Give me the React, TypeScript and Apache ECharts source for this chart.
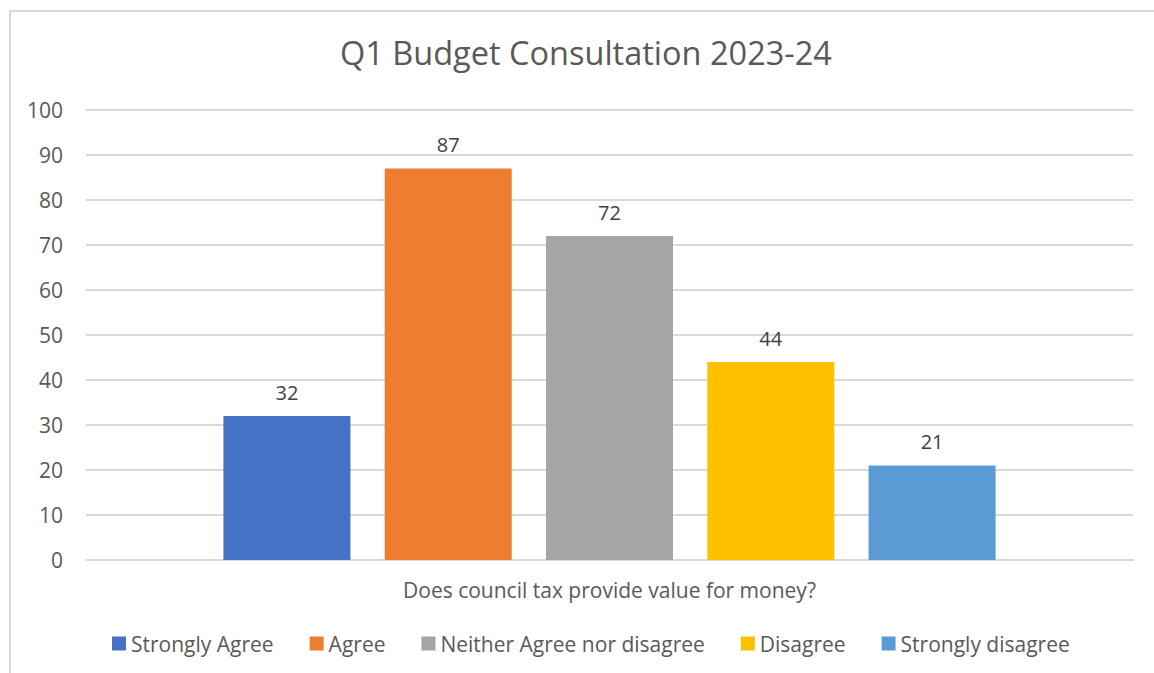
import React, { useEffect, useRef } from "react";
import * as echarts from "echarts";

const title = "Q1 Budget Consultation 2023-24";
const category = ["Does council tax provide value for money?"];
const seriesNames = ["Strongly Agree", "Agree", "Neither Agree nor disagree", "Disagree", "Strongly disagree"];
const seriesValues = [32, 87, 72, 44, 21];
const seriesColors = ["#4472C4", "#ED7D31", "#A5A5A5", "#FFC000", "#5B9BD5"];

const FONT = "'Open Sans', sans-serif";

export default function App() {
  const ref = useRef<HTMLDivElement>(null);
  useEffect(() => {
    if (!ref.current) return;
    const chart = echarts.init(ref.current, null, { renderer: "svg" });
    chart.setOption({
      animation: false,
      backgroundColor: "#ffffff",
      textStyle: { fontFamily: FONT },
      title: {
        text: title,
        left: 335,
        top: 31,
        textStyle: { fontFamily: FONT, fontSize: 32.5, fontWeight: "normal", color: "#595959" },
      },
      graphic: [
        {
          type: "rect",
          shape: { x: 10, y: 11, width: 1200, height: 700 },
          style: { fill: "none", stroke: "#d9d9d9", lineWidth: 2 },
          silent: true,
        },
      ],
      legend: {
        bottom: 14,
        left: 107,
        itemWidth: 14,
        itemHeight: 14,
        itemGap: 36,
        icon: "rect",
        textStyle: { fontFamily: FONT, fontSize: 21, color: "#595959", padding: [0, 0, 0, 0] },
        data: seriesNames,
      },
      grid: { left: 86, right: 21, top: 110, bottom: 113, containLabel: false },
      xAxis: {
        type: "category",
        data: category,
        axisLine: { show: true, lineStyle: { color: "#d9d9d9", width: 2 } },
        axisTick: { show: false },
        axisLabel: { fontFamily: FONT, fontSize: 21, color: "#595959", margin: 19 },
      },
      yAxis: {
        type: "value",
        min: 0,
        max: 100,
        interval: 10,
        axisLine: { show: false },
        axisTick: { show: false },
        splitLine: { lineStyle: { color: "#d9d9d9", width: 2 } },
        axisLabel: { fontFamily: FONT, fontSize: 21, color: "#595959", margin: 23 },
      },
      series: seriesNames.map((name, i) => ({
        name,
        type: "bar",
        data: [seriesValues[i]],
        barWidth: 127,
        barGap: "27%",
        itemStyle: { color: seriesColors[i] },
        label: {
          show: true,
          position: "top",
          distance: 14,
          fontFamily: FONT,
          fontSize: 20,
          color: "#404040",
        },
      })),
    });
    return () => chart.dispose();
  }, []);
  return (
    <div
      ref={ref}
      style={{ position: "fixed", left: 0, top: 0, width: 1154, height: 673 }}
    />
  );
}
